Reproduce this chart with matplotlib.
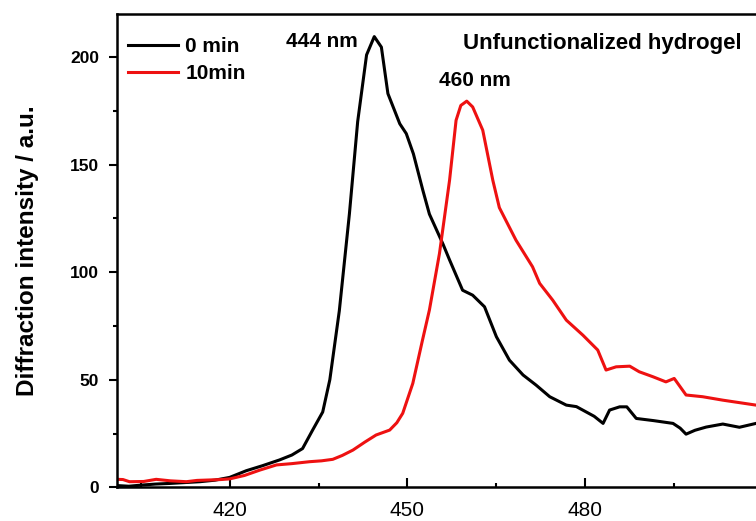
import matplotlib
matplotlib.use("Agg")
import matplotlib.pyplot as plt
from matplotlib.ticker import MultipleLocator

plt.rcParams['font.family'] = ['Liberation Sans', 'DejaVu Sans']

# diffraction spectra, wavelength (nm) vs intensity (a.u.)
wl_0min = [401.0, 403.0, 405.0, 407.5, 410.0, 412.5, 415.0, 417.5, 420.0, 422.8,
           425.5, 428.4, 430.5, 432.3, 434.0, 435.7, 436.9, 438.5, 440.2, 441.6,
           443.1, 444.4, 445.6, 446.7, 448.7, 449.8, 451.0, 452.6, 453.7, 456.0,
           457.1, 459.3, 461.0, 463.0, 465.0, 467.2, 469.5, 471.7, 474.0, 476.8,
           478.5, 480.1, 481.5, 483.0, 484.1, 485.8, 487.0, 488.6, 491.5, 494.8,
           496.0, 497.0, 498.5, 500.4, 503.2, 506.0, 508.8]
int_0min = [0.8, 0.5, 1.0, 1.5, 1.8, 2.2, 2.6, 3.3, 4.6, 7.7,
            10.0, 12.7, 15.0, 18.0, 26.6, 35.0, 50.0, 82.0, 127.0, 170.0,
            201.0, 209.5, 204.6, 183.0, 169.0, 164.4, 155.0, 138.0, 127.0, 113.0,
            105.7, 91.6, 89.3, 83.9, 70.0, 59.1, 52.2, 47.5, 42.1, 38.2,
            37.5, 35.1, 33.0, 29.7, 35.9, 37.4, 37.4, 32.0, 31.0, 29.7,
            27.5, 24.7, 26.5, 28.0, 29.4, 27.9, 29.7]

wl_10min = [401.0, 402.0, 403.1, 405.5, 407.6, 410.0, 412.7, 414.5, 416.6, 418.5,
            420.0, 422.5, 425.1, 427.9, 430.5, 433.5, 435.5, 437.4, 439.0, 440.8,
            442.8, 444.7, 447.0, 448.2, 449.2, 450.9, 452.5, 453.7, 455.4, 457.1,
            458.2, 459.0, 460.0, 461.0, 462.7, 464.4, 465.5, 468.3, 471.1, 472.3,
            474.5, 476.8, 479.6, 482.1, 483.5, 485.2, 487.5, 489.1, 491.4, 493.6,
            495.0, 497.0, 499.8, 503.2, 508.8]
int_10min = [3.7, 3.6, 2.6, 2.7, 3.7, 3.0, 2.6, 3.2, 3.4, 3.6,
             3.9, 5.5, 8.0, 10.4, 11.0, 11.9, 12.3, 13.0, 14.8, 17.3,
             21.0, 24.3, 26.6, 30.0, 34.4, 48.3, 68.0, 82.4, 108.7, 142.7,
             170.6, 177.5, 179.5, 176.8, 166.0, 142.7, 130.0, 114.9, 102.5, 94.8,
             87.0, 77.7, 70.7, 63.8, 54.5, 56.0, 56.3, 53.7, 51.4, 49.0,
             50.6, 42.9, 42.1, 40.5, 38.2]

fig = plt.figure(figsize=(7.56, 5.21), dpi=100)
ax = fig.add_axes([0.1548, 0.0647, 0.8452, 0.9084])

ax.plot(wl_0min, int_0min, color='black', lw=2.2, label='0 min')
ax.plot(wl_10min, int_10min, color='#ee1111', lw=2.2, label='10min')

ax.set_xlim(401, 508.8)
ax.set_ylim(0, 220)

ax.xaxis.set_major_locator(MultipleLocator(30))
ax.xaxis.set_minor_locator(MultipleLocator(15))
ax.yaxis.set_major_locator(MultipleLocator(50))
ax.yaxis.set_minor_locator(MultipleLocator(25))

ax.tick_params(axis='x', which='major', direction='in', length=6.5, width=1.5,
               labelsize=15, pad=10)
ax.tick_params(axis='x', which='minor', direction='in', length=3, width=1.5)
ax.tick_params(axis='y', which='major', direction='out', length=6, width=1.5,
               labelsize=12.5, pad=7)
ax.tick_params(axis='y', which='minor', direction='out', length=3, width=1.5)
for lbl in ax.get_yticklabels():
    lbl.set_fontweight('bold')

for side in ['left', 'bottom', 'top']:
    ax.spines[side].set_linewidth(1.8)
ax.spines['right'].set_visible(False)

ax.set_ylabel('Diffraction intensity / a.u.', fontsize=17.5, fontweight='bold', labelpad=22)

ax.text(435.5, 207, '444 nm', fontsize=15, fontweight='bold', ha='center', va='center')
ax.text(461.3, 189.2, '460 nm', fontsize=15, fontweight='bold', ha='center', va='center')
ax.text(482.8, 206.5, 'Unfunctionalized hydrogel', fontsize=16, fontweight='bold',
        ha='center', va='center')

leg = ax.legend(loc='upper left', bbox_to_anchor=(-0.012, 0.99), frameon=False,
                prop={'size': 15, 'weight': 'bold'}, handlelength=2.4,
                handletextpad=0.35, labelspacing=0.36, borderpad=0.4)

fig.savefig('out.png', dpi=100)
